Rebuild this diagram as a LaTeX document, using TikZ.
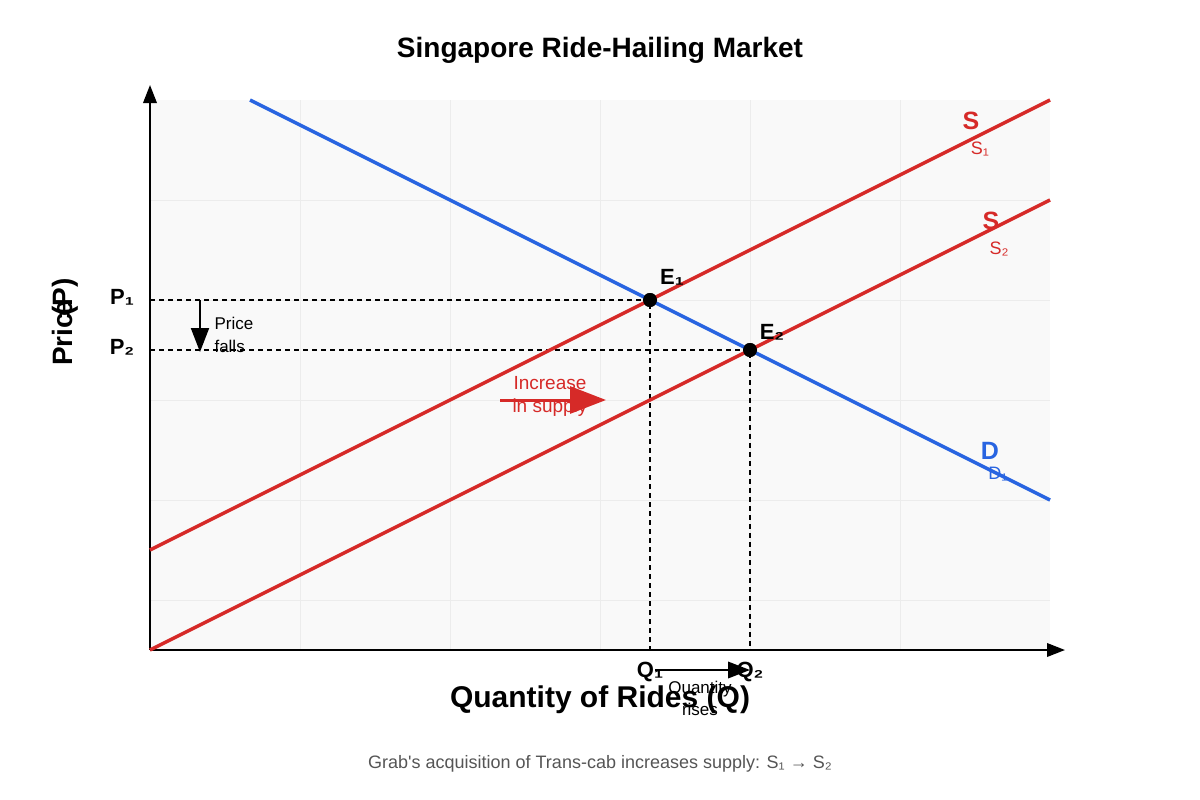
\documentclass[tikz,border=0pt]{standalone}
\usepackage{fontspec}
\setmainfont{Liberation Sans}
\usetikzlibrary{positioning,arrows.meta}
\definecolor{suppred}{RGB}{214,42,40}
\definecolor{demblue}{RGB}{40,100,225}
\definecolor{plotbg}{RGB}{249,249,249}
\definecolor{gridgray}{RGB}{236,236,236}
\definecolor{capgray}{RGB}{85,85,85}
\newcommand{\fs}[1]{\fontsize{#1}{#1}\selectfont}

\begin{document}
\begin{tikzpicture}[x=1pt,y=-1pt,
    curve/.style={line width=3.5pt},
    guide/.style={line width=1.3pt,dash pattern=on 5pt off 4pt},
    eqdot/.style={circle,fill=black,inner sep=0pt,minimum size=14pt},
    plabel/.style={font=\bfseries\fs{22}},
    clabel/.style={font=\bfseries\fs{25}},
    sublabel/.style={font=\fs{18}},
    note/.style={font=\fs{17},align=left},
    bigtip/.style={-{Triangle[length=#1,width=0.75*#1]}}]
    \useasboundingbox (0,0) rectangle (1200,800);
    % plot area and grid
    \fill[plotbg] (150,100) rectangle (1050,650);
    \foreach \gx in {300,450,...,900} \draw[gridgray,line width=1pt] (\gx,100) -- (\gx,650);
    \foreach \gy in {200,300,...,600} \draw[gridgray,line width=1pt] (150,\gy) -- (1050,\gy);
    % axes
    \coordinate (O) at (150,650);
    \coordinate (ytop) at (150,85);
    \coordinate (xend) at (1065,650);
    \draw[line width=2pt,bigtip=18pt] (O) -- (ytop);
    \draw[line width=2pt,bigtip=18pt] (O) -- (xend);
    \node[font=\bfseries\fs{28}] (title) at (600,50) {Singapore Ride-Hailing Market};
    \node[font=\bfseries\fs{30}] (xlab) at (600,700) {Quantity of Rides (Q)};
    \node[font=\bfseries\fs{28},rotate=90] (ylab) at (65,322) {Pric\kern-4pt e\kern-14pt(P)};
    % curves
    \coordinate (d0) at (250,100);   \coordinate (d1) at (1050,500);
    \coordinate (s10) at (150,550);  \coordinate (s11) at (1050,100);
    \coordinate (s20) at (150,650);  \coordinate (s21) at (1050,200);
    \node[eqdot] (E1) at (650,300) {};
    \node[eqdot] (E2) at (750,350) {};
    \coordinate (p1) at (150,300);  \coordinate (p2) at (150,350);
    \coordinate (q1) at (650,650);  \coordinate (q2) at (750,650);
    \draw[guide] (p1) -- (E1.center) -- (q1);
    \draw[guide] (p2) -- (E2.center) -- (q2);
    \draw[curve,demblue] (d0) -- (d1);
    \draw[curve,suppred] (s10) -- (s11);
    \draw[curve,suppred] (s20) -- (s21);
    \node[eqdot] at (E1) {};
    \node[eqdot] at (E2) {};
    % labels
    \node[plabel] (P1) at (122,297) {P₁};
    \node[plabel] (P2) at (122,347) {P₂};
    \node[plabel] (Q1) at (650,672) {Q₁};
    \node[plabel] (Q2) at (750,672) {Q₂};
    \node[plabel] (E1l) at (672,277) {E₁};
    \node[plabel] (E2l) at (772,332) {E₂};
    \node[clabel,suppred] (S1a) at (971,121) {S};
    \node[sublabel,suppred] (S1b) at (980,149) {S₁};
    \node[clabel,suppred] (S2a) at (991,221) {S};
    \node[sublabel,suppred] (S2b) at (999,249) {S₂};
    \node[clabel,demblue] (Da) at (990,451) {D};
    \node[sublabel,demblue] (Db) at (998,474) {D₁};
    % shift arrows
    \coordinate (pf0) at (200,300); \coordinate (pf1) at (200,352);
    \draw[line width=2pt,bigtip=24pt] (pf0) -- (pf1);
    \node[note,anchor=west] (pfa) at (211,323) {Price};
    \node[note,anchor=west] (pfb) at (211,346) {falls};
    \coordinate (is0) at (500,400); \coordinate (is1) at (606,400);
    \draw[suppred,line width=3pt,bigtip=36pt] (is0) -- (is1);
    \node[note,suppred,font=\fs{19}] (isa) at (550,383) {Increase};
    \node[note,suppred,font=\fs{19}] (isb) at (550,408) {in supply};
    \coordinate (qr0) at (655,670); \coordinate (qr1) at (750,670);
    \draw[line width=2pt,bigtip=22pt] (qr0) -- (qr1);
    \node[note] (qra) at (700,689) {Quantity};
    \node[note] (qrb) at (700,709) {rises};
    \node[font=\fs{18},text=capgray] (cap) at (600,764) {Grab\textquotesingle s acquisition of Trans-cab increases supply: S₁ → S₂};
\end{tikzpicture}
\end{document}
